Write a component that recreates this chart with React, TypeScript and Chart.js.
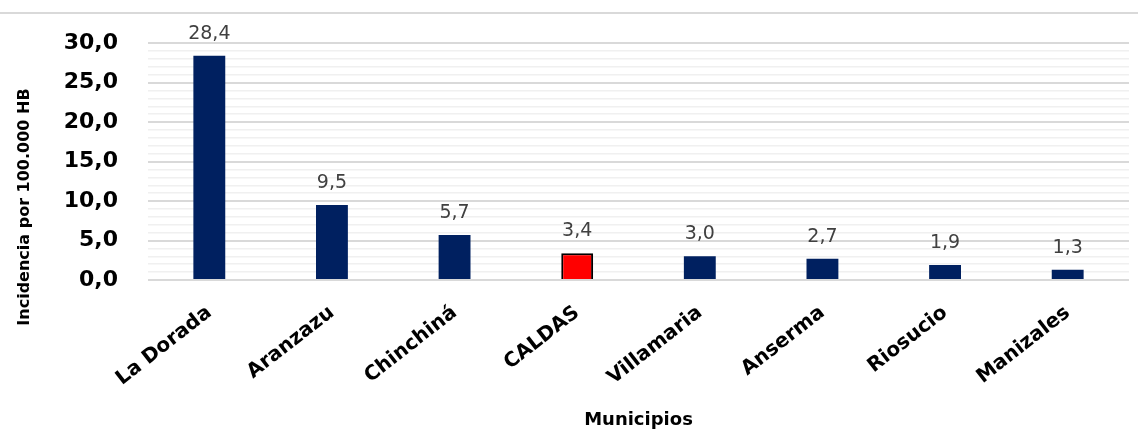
import React, { useEffect, useRef } from "react";
import { Chart, registerables } from "chart.js";

Chart.register(...registerables);

const categories = ["La Dorada", "Aranzazu", "Chinchiná", "CALDAS", "Villamaria", "Anserma", "Riosucio", "Manizales"];
const values = [28.4, 9.5, 5.7, 3.4, 3.0, 2.7, 1.9, 1.3];
const barColors = ["#002060", "#002060", "#002060", "#ff0000", "#002060", "#002060", "#002060", "#002060"];
const borderColors = ["#002060", "#002060", "#002060", "#000000", "#002060", "#002060", "#002060", "#002060"];
const borderWidths = [0, 0, 0, 2, 0, 0, 0, 0];
const yTitle = "Incidencia por 100.000 HB";
const xTitle = "Municipios";

const fmt = (v: number) => v.toFixed(1).replace(".", ",");

const decorPlugin = {
  id: "decor",
  beforeDraw(chart: any) {
    const ctx = chart.ctx;
    ctx.save();
    ctx.strokeStyle = "#d9d9d9";
    ctx.lineWidth = 2;
    ctx.beginPath();
    ctx.moveTo(0, 13);
    ctx.lineTo(chart.width, 13);
    ctx.stroke();
    ctx.restore();
  },
  afterDatasetsDraw(chart: any) {
    const ctx = chart.ctx;
    const meta = chart.getDatasetMeta(0);
    ctx.save();
    ctx.font = "19px 'DejaVu Sans'";
    ctx.fillStyle = "#404040";
    ctx.textAlign = "center";
    ctx.textBaseline = "alphabetic";
    meta.data.forEach((bar: any, i: number) => {
      ctx.fillText(fmt(values[i]), bar.x, bar.y - 17);
    });
    ctx.restore();
  },
  afterDraw(chart: any) {
    const ctx = chart.ctx;
    const area = chart.chartArea;
    ctx.save();
    ctx.fillStyle = "#000000";
    ctx.font = "bold 16px 'DejaVu Sans'";
    ctx.textAlign = "center";
    ctx.textBaseline = "middle";
    ctx.translate(25, 207);
    ctx.rotate(-Math.PI / 2);
    ctx.fillText(yTitle, 0, 0);
    ctx.restore();
    ctx.save();
    ctx.fillStyle = "#000000";
    ctx.font = "bold 18px 'DejaVu Sans'";
    ctx.textAlign = "center";
    ctx.textBaseline = "middle";
    ctx.fillText(xTitle, (area.left + area.right) / 2, 420);
    ctx.restore();
  },
};

export default function App() {
  const ref = useRef<HTMLCanvasElement | null>(null);
  useEffect(() => {
    if (!ref.current) return;
    const chart = new Chart(ref.current, {
      type: "bar",
      data: {
        labels: categories,
        datasets: [
          {
            data: values,
            backgroundColor: barColors,
            borderColor: borderColors,
            borderWidth: borderWidths,
            barPercentage: 0.26,
            categoryPercentage: 1,
          },
        ],
      },
      options: {
        animation: false,
        responsive: false,
        maintainAspectRatio: false,
        layout: { padding: { top: 42, right: 9, left: 0, bottom: 0 } },
        plugins: { legend: { display: false }, tooltip: { enabled: false } },
        scales: {
          x: {
            grid: { display: false },
            border: { display: false },
            ticks: {
              autoSkip: false,
              maxRotation: 38,
              minRotation: 38,
              padding: 13,
              color: "#000000",
              font: { family: "'DejaVu Sans'", size: 20, weight: "bold" },
            },
            afterFit(scale: any) {
              scale.height = 152;
            },
          },
          y: {
            min: 0,
            max: 30,
            border: { display: false },
            grid: {
              drawTicks: false,
              color: (c: any) => (c.tick && c.tick.value % 5 === 0 ? "#d9d9d9" : "#f0f0f0"),
              lineWidth: (c: any) => (c.tick && c.tick.value % 5 === 0 ? 2 : 1.5),
            },
            ticks: {
              stepSize: 1,
              autoSkip: false,
              padding: 30,
              color: "#000000",
              font: { family: "'DejaVu Sans'", size: 22, weight: "bold" },
              callback: (v: any) => (Number(v) % 5 === 0 ? fmt(Number(v)) : ""),
            },
            afterFit(scale: any) {
              scale.width = 148;
            },
          },
        },
      },
      plugins: [decorPlugin],
    });
    return () => chart.destroy();
  }, []);
  return (
    <div style={{ position: "fixed", left: 0, top: 0, width: 1138, height: 432, background: "#ffffff" }}>
      <canvas ref={ref} width={1138} height={432} style={{ width: 1138, height: 432, display: "block" }} />
    </div>
  );
}
